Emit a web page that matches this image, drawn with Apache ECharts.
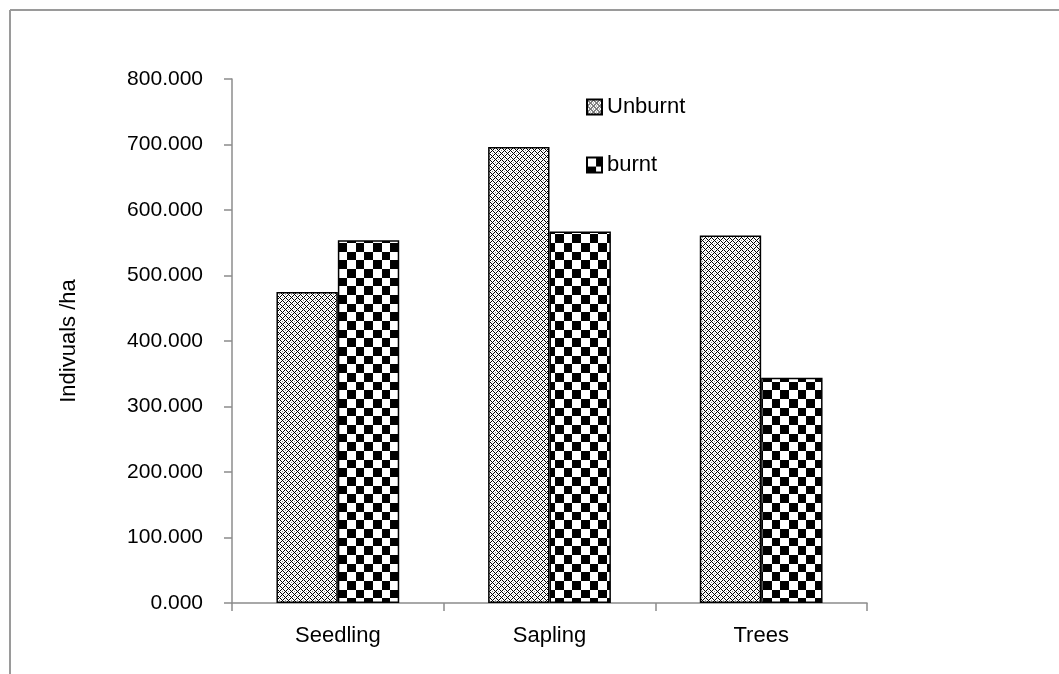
<!DOCTYPE html>
<html>
<head>
<meta charset="utf-8">
<script src="https://cdn.jsdelivr.net/npm/echarts@6/dist/echarts.min.js"></script>
<style>
html,body{margin:0;padding:0;background:#fff;}
#chart{width:1059px;height:674px;}
</style>
</head>
<body>
<div id="chart"></div>
<script>
const categories = ['Seedling', 'Sapling', 'Trees'];
const unburnt = [475, 696, 561];
const burnt = [554, 567, 344];
const seriesNames = ['Unburnt', 'burnt'];
const yTicks = { min: 0, max: 800, interval: 100 };
const yTitle = 'Indivuals /ha';

function checkerPattern() {
  const c = document.createElement('canvas');
  c.width = 52; c.height = 52;
  const ctx = c.getContext('2d');
  ctx.fillStyle = '#fff'; ctx.fillRect(0, 0, 52, 52);
  const sizes = [9, 9, 8, 9, 9, 8];
  const pos = [0]; for (let i = 0; i < 6; i++) pos.push(pos[i] + sizes[i]);
  ctx.fillStyle = '#000';
  for (let i = 0; i < 6; i++) for (let j = 0; j < 6; j++) {
    if ((i + j) % 2 === 1) ctx.fillRect(pos[i], pos[j], sizes[i], sizes[j]);
  }
  return c;
}
function dotPattern() {
  const c = document.createElement('canvas');
  c.width = 6; c.height = 6;
  const ctx = c.getContext('2d');
  ctx.fillStyle = '#fff'; ctx.fillRect(0, 0, 6, 6);
  for (let x = 0; x < 6; x++) for (let y = 0; y < 6; y++) {
    if ((x + y) % 6 === 0 || (x - y + 6) % 6 === 0) { ctx.fillStyle = '#000'; ctx.fillRect(x, y, 1, 1); }
    else if ((x + y) % 6 === 3 && (x - y + 6) % 6 === 3) { ctx.fillStyle = '#888'; ctx.fillRect(x, y, 1, 1); }
  }
  return c;
}

const chart = echarts.init(document.getElementById('chart'), null, { renderer: 'canvas' });
const font = 'Liberation Sans, Arial, sans-serif';
chart.setOption({
  animation: false,
  backgroundColor: '#fff',
  graphic: [
    { type: 'line', shape: { x1: 10, y1: 10, x2: 10, y2: 674 }, style: { stroke: '#9a9a9a', lineWidth: 2 } },
    { type: 'line', shape: { x1: 10, y1: 10, x2: 1059, y2: 10 }, style: { stroke: '#9a9a9a', lineWidth: 2 } }
  ],
  grid: { left: 232, right: 192, top: 79, bottom: 71, containLabel: false },
  legend: {
    orient: 'vertical', left: 581, top: 91, itemGap: 36,
    itemWidth: 15, itemHeight: 15, icon: 'rect',
    textStyle: { fontFamily: font, fontSize: 22, color: '#000' },
    data: seriesNames
  },
  xAxis: {
    type: 'category', data: categories,
    axisLine: { lineStyle: { color: '#8c8c8c', width: 1.5 } },
    axisTick: { show: true, length: 8, inside: false, alignWithLabel: false, lineStyle: { color: '#8c8c8c', width: 1.5 } },
    axisLabel: { fontFamily: font, fontSize: 22, color: '#000', margin: 22 },
    splitLine: { show: false }
  },
  yAxis: {
    type: 'value', min: yTicks.min, max: yTicks.max, interval: yTicks.interval,
    name: yTitle, nameLocation: 'middle', nameGap: 152, nameRotate: 90,
    nameTextStyle: { fontFamily: font, fontSize: 22, color: '#000' },
    axisLine: { show: true, lineStyle: { color: '#8c8c8c', width: 1.5 } },
    axisTick: { show: true, length: 8, lineStyle: { color: '#8c8c8c', width: 1.5 } },
    axisLabel: { fontFamily: font, fontSize: 21, color: '#000', margin: 29, formatter: v => v.toFixed(3) },
    splitLine: { show: false }
  },
  series: [
    {
      name: seriesNames[0], type: 'bar', data: unburnt,
      barGap: '0%', barCategoryGap: '42%',
      itemStyle: { color: { image: dotPattern(), repeat: 'repeat' }, borderColor: '#000', borderWidth: 1.5 }
    },
    {
      name: seriesNames[1], type: 'bar', data: burnt,
      barGap: '0%', barCategoryGap: '42%',
      itemStyle: { color: { image: checkerPattern(), repeat: 'repeat' }, borderColor: '#000', borderWidth: 1.5 }
    }
  ]
});
</script>
</body>
</html>
